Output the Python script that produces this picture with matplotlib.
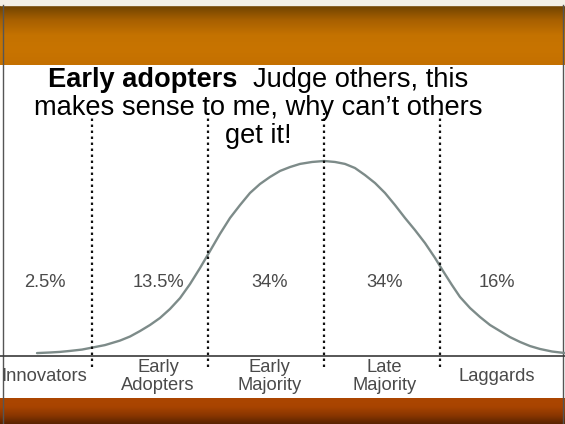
import numpy as np
import matplotlib.pyplot as plt
from matplotlib.lines import Line2D
from matplotlib.colors import LinearSegmentedColormap

# adoption curve (x in std units, height relative to peak)
curve_x = [-2.474, -2.362, -2.276, -2.190, -2.086, -1.991, -1.888, -1.759, -1.672,
           -1.586, -1.500, -1.414, -1.328, -1.241, -1.155, -1.069, -0.983, -0.897,
           -0.810, -0.724, -0.638, -0.552, -0.466, -0.379, -0.293, -0.207, -0.103,
           0.0, 0.095, 0.181, 0.267, 0.353, 0.440, 0.526, 0.612, 0.698, 0.784,
           0.871, 0.957, 1.026, 1.103, 1.172, 1.259, 1.345, 1.431, 1.517, 1.603,
           1.690, 1.776, 1.862, 1.966, 2.078]
curve_h = [0.015, 0.018, 0.021, 0.026, 0.033, 0.044, 0.056, 0.079, 0.100,
           0.128, 0.159, 0.195, 0.241, 0.297, 0.369, 0.451, 0.538, 0.626,
           0.708, 0.774, 0.836, 0.882, 0.918, 0.949, 0.969, 0.985, 0.995,
           1.0, 0.995, 0.985, 0.964, 0.928, 0.887, 0.836, 0.774, 0.708, 0.646,
           0.579, 0.503, 0.436, 0.364, 0.303, 0.246, 0.200, 0.159, 0.128, 0.097,
           0.072, 0.051, 0.036, 0.023, 0.015]

boundaries = [-2, -1, 0, 1]
groups = ["Innovators", "Early\nAdopters", "Early\nMajority", "Late\nMajority", "Laggards"]
shares = [2.5, 13.5, 34, 34, 16]

W, H = 565, 424
fig = plt.figure(figsize=(W / 100, H / 100), dpi=100)
fig.patch.set_facecolor("white")

# background bands
bg = fig.add_axes([0, 0, 1, 1])
bg.set_xlim(0, 1)
bg.set_ylim(0, 1)
bg.axis("off")
top_cmap = LinearSegmentedColormap.from_list(
    "top", ["#c47000", "#c87400", "#c47200", "#a86000", "#6e4200"])
bot_cmap = LinearSegmentedColormap.from_list(
    "bot", ["#5a2400", "#8a3600", "#a84400", "#ac4600"])
grad = np.linspace(0, 1, 64).reshape(-1, 1)
bg.imshow(grad, cmap=top_cmap, aspect="auto", origin="lower",
          extent=[0, 1, 1 - 65 / H, 1 - 5 / H])
bg.imshow(grad, cmap=bot_cmap, aspect="auto", origin="lower",
          extent=[0, 1, 0, 26 / H])
bg.axhspan(1 - 5 / H, 1, color="#f3efe6")
for xf in (2.5 / W, 562.5 / W):
    bg.add_line(Line2D([xf, xf], [0, 1 - 5 / H], color="#555555", lw=1.0))

# main chart
ax = fig.add_axes([0, 0, 1, 1])
ax.patch.set_alpha(0)
ax.set_xlim(-324 / 116, 241 / 116)
ax.set_ylim(-68 / 195, 356 / 195)
ax.axis("off")

ax.axhline(0, color="#3a3a3a", lw=1.2, zorder=2)
ax.plot(curve_x, curve_h, color="#7d8b89", lw=1.7, zorder=3,
        solid_joinstyle="round", solid_capstyle="round", antialiased=True)
ax.vlines(boundaries, -0.056, 1.246, colors="#111111", lw=1.6,
          linestyles=[(0, (1.1, 1.6))], zorder=4)

label_x = [-2.41, -1.43, -0.47, 0.52, 1.49]
for x, s, g in zip(label_x, shares, groups):
    ax.text(x, 0.379, f"{s:g}%", ha="center", va="center",
            fontsize=13.2, color="#4a4a4a", family="Liberation Sans")
    ax.text(x, -0.105, g, ha="center", va="center", linespacing=1.05,
            fontsize=13.2, color="#4a4a4a", family="Liberation Sans")

# slide heading
fig.text(237 / W, 1 - 87 / H, "Early adopters", ha="right", va="baseline",
         fontsize=19.6, fontweight="bold", family="Liberation Sans", color="black")
fig.text(253 / W, 1 - 87 / H, "Judge others, this", ha="left", va="baseline",
         fontsize=19.6, family="Liberation Sans", color="black")
fig.text(258 / W, 1 - 115 / H, "makes sense to me, why can\u2019t others",
         ha="center", va="baseline", fontsize=19.6, family="Liberation Sans",
         color="black")
fig.text(258 / W, 1 - 143 / H, "get it!", ha="center", va="baseline",
         fontsize=19.6, family="Liberation Sans", color="black")

fig.savefig("out.png", dpi=100)
